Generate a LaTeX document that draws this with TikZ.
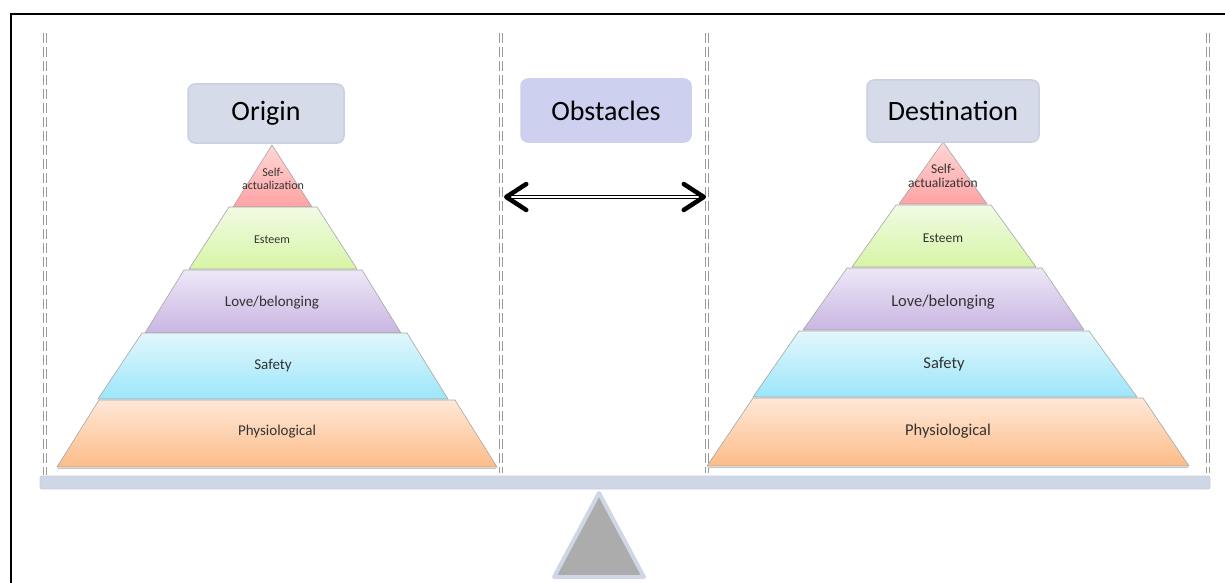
\documentclass[tikz,border=0pt]{standalone}
\usepackage{fontspec}
\setmainfont{Carlito}
\usetikzlibrary{arrows.meta}

\definecolor{boxfill}{HTML}{D5DBE8}
\definecolor{boxline}{HTML}{C9D0E1}
\definecolor{obsfill}{HTML}{CDD0EE}
\definecolor{beamfill}{HTML}{CFD6E5}
\definecolor{textgray}{HTML}{333333}
\definecolor{selfT}{HTML}{FFD6D6}
\definecolor{selfB}{HTML}{FFA3A3}
\definecolor{estT}{HTML}{F1FBE4}
\definecolor{estB}{HTML}{D7F5A6}
\definecolor{loveT}{HTML}{EDE7F7}
\definecolor{loveB}{HTML}{C9B6E2}
\definecolor{safeT}{HTML}{E2F7FD}
\definecolor{safeB}{HTML}{9CE6FA}
\definecolor{physT}{HTML}{FFE8D8}
\definecolor{physB}{HTML}{FCBC88}

\tikzset{
    level/.style={draw=gray!70, line width=0.6pt, line join=round},
    tag/.style={rounded corners=7pt, fill=boxfill, draw=boxline, line width=1.5pt,
        font=\fontsize{28}{32}\selectfont},
    guide/.style={draw=black!40, line width=0.9pt, double=white, double distance=1.3pt,
        dash pattern=on 10pt off 4pt},
    lbl/.style={text=textgray, align=center, inner sep=0pt},
    twoway/.style={line width=1.2pt, double=white, double distance=2pt,
        {Straight Barb[length=20pt,width=26pt,line width=4.5pt,round]}-{Straight Barb[length=20pt,width=26pt,line width=4.5pt,round]}}
}

\begin{document}
\begin{tikzpicture}[x=1pt, y=-1pt]
    \useasboundingbox (0,0) rectangle (1225,583);
    \clip (0,0) rectangle (1225,583);

    % frame
    \draw[line width=2.5pt] (11,600) -- (11,14) -- (1240,14);

    % guides
    \foreach \x/\yb in {45/475, 501/473, 707/473, 1208/473}
        \draw[guide] (\x,33) -- (\x,\yb);

    % beam and fulcrum
    \draw[fill=beamfill, draw=boxline, line width=0.8pt, rounded corners=2pt]
        (40,476) rectangle (1210,489);
    \draw[fill=gray!65, draw=beamfill, line width=4pt, line join=round]
        (599,493) -- (644,577) -- (554,577) -- cycle;

    % origin pyramid
    \draw[gray!45, line width=1.5pt] (58,468.5) -- (496,468.5);
    \draw[level, top color=selfT, bottom color=selfB] (272,145) -- (312,207) -- (233,207) -- cycle;
    \foreach \tl/\tr/\bl/\br/\yt/\yb/\col in {229/317/189/357/207/269/est,
        184/362/145/401/270/333/love, 142/407/98/448/333/399/safe,
        99/455/57/497/400/467/phys}
        \draw[level, top color=\col T, bottom color=\col B]
            (\tl,\yt) -- (\tr,\yt) -- (\br,\yb) -- (\bl,\yb) -- cycle;
    \node[lbl, font=\fontsize{12}{13}\selectfont] (oSelf) at (273,179) {Self-\\actualization};
    \node[lbl, font=\fontsize{12}{13}\selectfont] (oEst) at (272,240) {Esteem};
    \node[lbl, font=\fontsize{15}{16}\selectfont] (oLove) at (272,303) {Love/belonging};
    \node[lbl, font=\fontsize{15}{16}\selectfont] (oSafe) at (273,366) {Safety};
    \node[lbl, font=\fontsize{15}{16}\selectfont] (oPhys) at (277,432) {Physiological};

    % destination pyramid
    \draw[gray!45, line width=1.5pt] (708,467.5) -- (1188,467.5);
    \draw[level, top color=selfT, bottom color=selfB] (943,142) -- (987,204) -- (899,204) -- cycle;
    \foreach \tl/\tr/\bl/\br/\yt/\yb/\col in {896/991/852/1036/205/267/est,
        847/1042/803/1084/268/330/love, 799/1089/753/1137/331/397/safe,
        753/1143/707/1189/398/466/phys}
        \draw[level, top color=\col T, bottom color=\col B]
            (\tl,\yt) -- (\tr,\yt) -- (\br,\yb) -- (\bl,\yb) -- cycle;
    \node[lbl, font=\fontsize{13.5}{14.5}\selectfont] (dSelf) at (943,176) {Self-\\actualization};
    \node[lbl, font=\fontsize{13.5}{14.5}\selectfont] (dEst) at (943,238) {Esteem};
    \node[lbl, font=\fontsize{16.5}{18}\selectfont] (dLove) at (943,302) {Love/belonging};
    \node[lbl, font=\fontsize{16.5}{18}\selectfont] (dSafe) at (944,364) {Safety};
    \node[lbl, font=\fontsize{16.5}{18}\selectfont] (dPhys) at (948,431) {Physiological};

    % headings
    \node[tag, minimum width=156pt, minimum height=59pt] (origin) at (266,113.5) {Origin};
    \node[tag, fill=obsfill, draw=obsfill, minimum width=170pt, minimum height=63pt] (obst) at (606,110.5) {Obstacles};
    \node[tag, minimum width=172pt, minimum height=62pt] (dest) at (953,111) {Destination};

    % arrow between the guides
    \coordinate (arrL) at (504,197);
    \coordinate (arrR) at (706,197);
    \draw[twoway] (arrL) -- (arrR);
\end{tikzpicture}
\end{document}
